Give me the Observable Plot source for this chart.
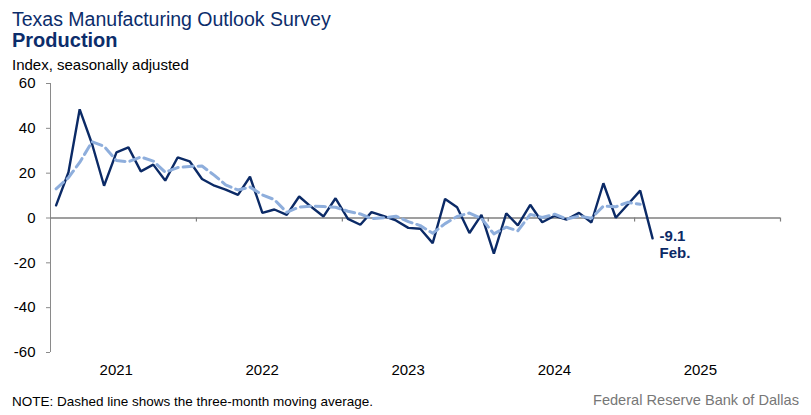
<!DOCTYPE html>
<html>
<head>
<meta charset="utf-8">
<script src="https://cdn.jsdelivr.net/npm/d3@7"></script>
<script src="https://cdn.jsdelivr.net/npm/@observablehq/plot@0.6"></script>
<style>
  html, body { margin: 0; padding: 0; background: #fff; }
  #wrap { position: relative; width: 811px; height: 415px; font-family: "Liberation Sans", Arial, sans-serif; overflow: hidden; }
  .t { position: absolute; white-space: nowrap; }
  #title { left: 12px; top: 9px; font-size: 19.5px; line-height: 20px; color: #0c2d6b; }
  #subtitle { left: 12px; top: 30px; font-size: 20px; line-height: 20px; color: #0c2d6b; font-weight: bold; }
  #unit { left: 12px; top: 57px; font-size: 15px; line-height: 15px; color: #000; }
  #note { left: 12px; top: 395px; font-size: 13.5px; line-height: 14px; color: #000; }
  #source { right: 12px; top: 393px; font-size: 14.6px; line-height: 15px; color: #777; }
  #chart { position: absolute; left: 0; top: 70px; }
</style>
</head>
<body>
<div id="wrap">
  <div class="t" id="title">Texas Manufacturing Outlook Survey</div>
  <div class="t" id="subtitle">Production</div>
  <div class="t" id="unit">Index, seasonally adjusted</div>
  <div id="chart"></div>
  <div class="t" id="note">NOTE: Dashed line shows the three-month moving average.</div>
  <div class="t" id="source">Federal Reserve Bank of Dallas</div>
</div>
<script>
// Monthly values starting January 2021
const startYear = 2021;
const production = [
  5.6, 20.4, 48.5, 33.0, 14.4, 29.3, 31.5, 20.8, 23.8, 16.7, 27.0, 25.3,
  17.4, 14.4, 12.7, 10.3, 18.4, 2.3, 3.8, 1.4, 9.6, 5.0, 0.7, 8.8,
  -0.4, -3.0, 2.6, 0.8, -1.1, -4.4, -4.8, -11.2, 8.5, 4.8, -6.7, 1.4,
  -15.9, 2.1, -3.3, 5.9, -1.9, 1.0, -0.7, 2.3, -2.0, 15.5, 0.1, 6.0,
  12.2, -9.1
];
const movingAverage = [
  13.0, 18.0, 24.8, 34.0, 32.0, 25.6, 25.1, 27.2, 25.4, 20.4, 22.5, 23.0,
  23.2, 19.0, 14.8, 12.5, 13.8, 10.3, 8.2, 2.5, 4.9, 5.3, 5.1, 4.8,
  3.0, 1.8, -0.3, 0.1, 0.8, -1.6, -3.4, -6.8, -2.5, 0.7, 2.2, -0.2,
  -7.1, -4.1, -5.7, 1.6, 0.2, 1.7, -0.5, 0.9, -0.1, 5.3, 5.0, 7.0,
  6.1
];
const yearLabels = ["2021", "2022", "2023", "2024", "2025"];
const yTicks = [-60, -40, -20, 0, 20, 40, 60];
const lastLabel = ["-9.1", "Feb."];

const monthDate = i => new Date(Date.UTC(startYear, i, 15));
const prodData = production.map((v, i) => ({date: monthDate(i), value: v}));
const maData = movingAverage.map((v, i) => ({date: monthDate(i), value: v}));
const yearStarts = yearLabels.map(y => new Date(Date.UTC(+y + 1, 0, 1)));
const midYears = yearLabels.map(y => new Date(Date.UTC(+y, 6, 2)));
const domainStart = new Date(Date.UTC(+yearLabels[0], 0, 1));
const domainEnd = new Date(Date.UTC(+yearLabels[yearLabels.length - 1] + 1, 0, 1));
const last = prodData[prodData.length - 1];

const chart = Plot.plot({
  width: 811,
  height: 310,
  marginLeft: 50,
  marginRight: 31,
  marginTop: 13,
  marginBottom: 28,
  style: {fontFamily: '"Liberation Sans", Arial, sans-serif', color: "#000", background: "transparent"},
  x: {type: "utc", domain: [domainStart, domainEnd]},
  y: {domain: [-60, 60]},
  marks: [
    Plot.ruleX([domainStart], {y1: -60, y2: 60, stroke: "#8a8a8a", strokeWidth: 1}),
    Plot.axisY({ticks: yTicks, tickSize: 4, tickPadding: 11, fontSize: 15, stroke: "#8a8a8a",
      tickFormat: d => `${d}`, label: null}),
    Plot.ruleY([0], {stroke: "#7f7f7f", strokeWidth: 1.5}),
    Plot.ruleX(yearStarts, {y1: 0, y2: -1.8, stroke: "#7f7f7f", strokeWidth: 1.2}),
    Plot.axisX({ticks: midYears, tickSize: 0, tickPadding: 12, fontSize: 15, dx: -7,
      tickFormat: d => `${d.getUTCFullYear()}`, label: null}),
    Plot.line(prodData, {x: "date", y: "value", stroke: "#0b2a66", strokeWidth: 2.4, strokeLinejoin: "miter"}),
    Plot.line(maData, {x: "date", y: "value", stroke: "#8eaedc", strokeWidth: 3, strokeDasharray: "10,5"}),
    Plot.text([last], {x: "date", y: "value", text: () => lastLabel[0], dx: 7, dy: -2,
      textAnchor: "start", fontSize: 15, fontWeight: "bold", fill: "#0b2a66"}),
    Plot.text([last], {x: "date", y: "value", text: () => lastLabel[1], dx: 7, dy: 15,
      textAnchor: "start", fontSize: 15, fontWeight: "bold", fill: "#0b2a66"})
  ]
});
document.getElementById("chart").appendChild(chart);
</script>
</body>
</html>
